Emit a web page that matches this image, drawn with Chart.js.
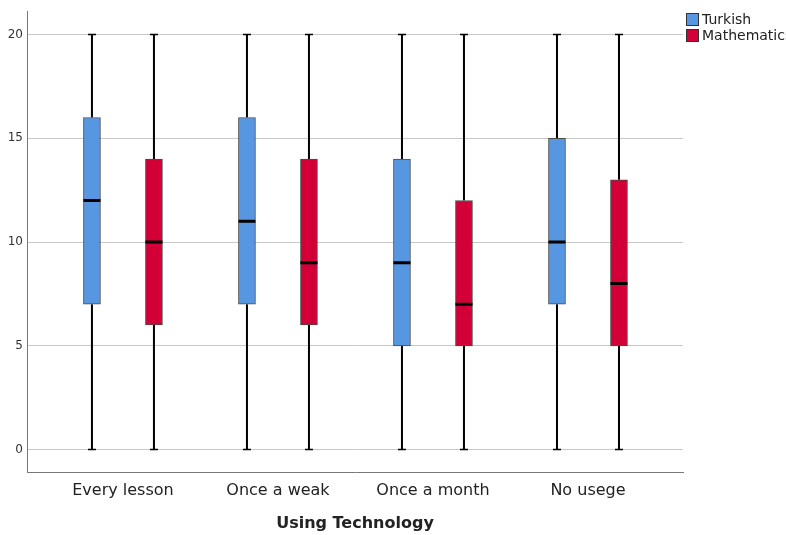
<!DOCTYPE html>
<html>
<head>
<meta charset="utf-8">
<script src="https://cdn.jsdelivr.net/npm/chart.js@4"></script>
<style>
  html, body { margin: 0; padding: 0; background: #fff; }
  #wrap { width: 786px; height: 535px; }
</style>
</head>
<body>
<div id="wrap"><canvas id="boxChart"></canvas></div>
<script>
const categories = ["Every lesson", "Once a weak", "Once a month", "No usege"];
const yTicks = [0, 5, 10, 15, 20];

// five-number summaries
const turkishMin = [0, 0, 0, 0];
const turkishQ1 = [7, 7, 5, 7];
const turkishMedian = [12, 11, 9, 10];
const turkishQ3 = [16, 16, 14, 15];
const turkishMax = [20, 20, 20, 20];

const mathMin = [0, 0, 0, 0];
const mathQ1 = [6, 6, 5, 5];
const mathMedian = [10, 9, 7, 8];
const mathQ3 = [14, 14, 12, 13];
const mathMax = [20, 20, 20, 20];

const FONT = "'DejaVu Sans', sans-serif";
const BOX_W = 17;

function boxData(q1, q3, shift) {
  return categories.map((c, i) => ({ x: i + shift, y: [q1[i], q3[i]] }));
}

// whiskers + medians drawn through the scales
const boxPlot = {
  id: "boxPlot",
  beforeDatasetsDraw(chart) {
    const { ctx } = chart;
    const y = chart.scales.y;
    chart.data.datasets.forEach((ds, di) => {
      const meta = chart.getDatasetMeta(di);
      meta.data.forEach((bar, i) => {
        const x = bar.x;
        const top = y.getPixelForValue(ds.stats.max[i]);
        const bot = y.getPixelForValue(ds.stats.min[i]);
        const q3 = y.getPixelForValue(ds.stats.q3[i]);
        const q1 = y.getPixelForValue(ds.stats.q1[i]);
        ctx.save();
        ctx.strokeStyle = "#000";
        ctx.lineWidth = 2;
        ctx.beginPath();
        ctx.moveTo(x, top); ctx.lineTo(x, q3);
        ctx.moveTo(x, q1); ctx.lineTo(x, bot);
        ctx.stroke();
        ctx.lineWidth = 1.5;
        ctx.beginPath();
        ctx.moveTo(x - 4, top); ctx.lineTo(x + 4, top);
        ctx.moveTo(x - 4, bot); ctx.lineTo(x + 4, bot);
        ctx.stroke();
        ctx.restore();
      });
    });
  },
  afterDatasetsDraw(chart) {
    const { ctx } = chart;
    const y = chart.scales.y;
    chart.data.datasets.forEach((ds, di) => {
      const meta = chart.getDatasetMeta(di);
      meta.data.forEach((bar, i) => {
        const m = y.getPixelForValue(ds.stats.median[i]);
        ctx.save();
        ctx.strokeStyle = "#000";
        ctx.lineWidth = 3;
        ctx.beginPath();
        ctx.moveTo(bar.x - BOX_W / 2, m);
        ctx.lineTo(bar.x + BOX_W / 2, m);
        ctx.stroke();
        ctx.restore();
      });
    });
  },
  afterDraw(chart) {
    // legend in the top-right corner (clipped like the original)
    const { ctx } = chart;
    ctx.save();
    ctx.font = "14px " + FONT;
    ctx.textBaseline = "middle";
    chart.data.datasets.forEach((ds, di) => {
      const yy = 13 + di * 16;
      ctx.fillStyle = ds.backgroundColor;
      ctx.fillRect(686, yy, 12, 12);
      ctx.strokeStyle = "#333";
      ctx.lineWidth = 1;
      ctx.strokeRect(686.5, yy + 0.5, 12, 12);
      ctx.fillStyle = "#222";
      ctx.fillText(ds.label, 702, yy + 7);
    });
    ctx.restore();
  }
};

new Chart(document.getElementById("boxChart"), {
  type: "bar",
  data: {
    datasets: [
      {
        label: "Turkish",
        data: boxData(turkishQ1, turkishQ3, -0.2),
        stats: { min: turkishMin, q1: turkishQ1, median: turkishMedian, q3: turkishQ3, max: turkishMax },
        backgroundColor: "#5796e1",
        borderColor: "#4a4a4a",
        borderWidth: 1,
        borderSkipped: false,
        barThickness: BOX_W,
        maxBarThickness: BOX_W
      },
      {
        label: "Mathematics",
        data: boxData(mathQ1, mathQ3, 0.2),
        stats: { min: mathMin, q1: mathQ1, median: mathMedian, q3: mathQ3, max: mathMax },
        backgroundColor: "#d20037",
        borderColor: "#4a4a4a",
        borderWidth: 1,
        borderSkipped: false,
        barThickness: BOX_W,
        maxBarThickness: BOX_W
      }
    ]
  },
  options: {
    responsive: true,
    maintainAspectRatio: false,
    animation: false,
    grouped: false,
    layout: { padding: { top: 10, right: 103, bottom: 0, left: 0 } },
    plugins: {
      legend: { display: false },
      tooltip: { enabled: false }
    },
    scales: {
      x: {
        type: "linear",
        offset: false,
        min: -0.619,
        max: 3.613,
        afterBuildTicks: (s) => { s.ticks = categories.map((c, i) => ({ value: i })); },
        afterFit: (s) => { s.height = 63; },
        ticks: {
          callback: (v) => categories[v],
          font: { family: FONT, size: 16 },
          color: "#222",
          padding: 9,
          maxRotation: 0
        },
        grid: { display: false, drawTicks: false },
        border: { display: true, color: "#777", width: 1 },
        title: {
          display: true,
          text: "Using Technology",
          font: { family: FONT, size: 16, weight: "bold" },
          color: "#222",
          padding: { top: 10, bottom: 2 }
        }
      },
      y: {
        min: -1.08,
        max: 21.12,
        afterBuildTicks: (s) => { s.ticks = yTicks.map((v) => ({ value: v })); },
        afterFit: (s) => { s.width = 27; },
        ticks: {
          font: { family: FONT, size: 12 },
          color: "#333",
          padding: 4
        },
        grid: { color: "#c8c8c8", lineWidth: 1, drawTicks: false },
        border: { display: true, color: "#777", width: 1 }
      }
    }
  },
  plugins: [boxPlot]
});
</script>
</body>
</html>
